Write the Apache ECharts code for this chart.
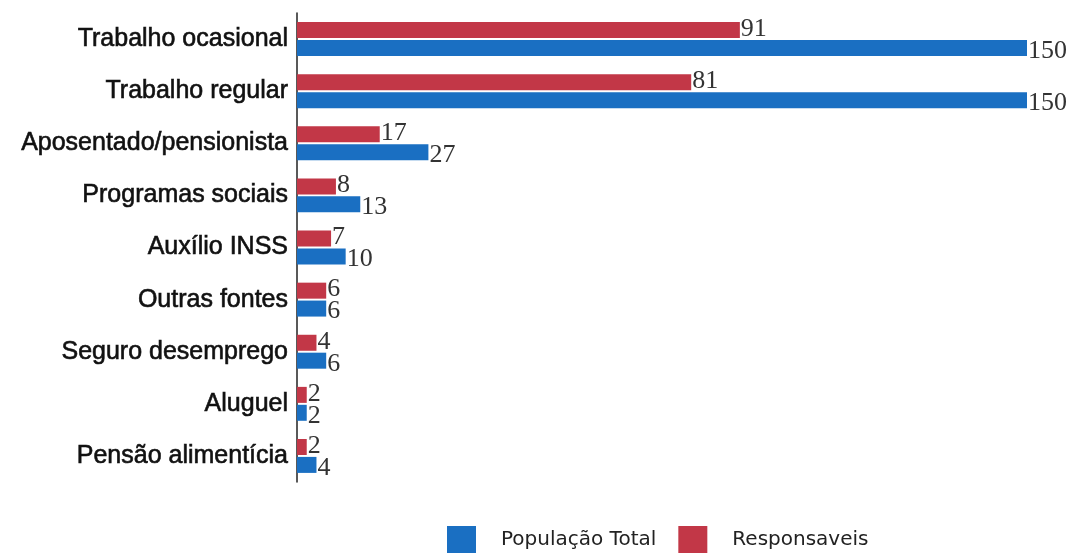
<!DOCTYPE html>
<html>
<head>
<meta charset="utf-8">
<script src="https://cdn.jsdelivr.net/npm/echarts@6/dist/echarts.min.js"></script>
<style>
  html, body { margin: 0; padding: 0; background: #fff; }
  #chart { width: 1068px; height: 553px; }
</style>
</head>
<body>
<div id="chart"></div>
<script>
const categories = [
    'Trabalho ocasional',
    'Trabalho regular',
    'Aposentado/pensionista',
    'Programas sociais',
    'Auxílio INSS',
    'Outras fontes',
    'Seguro desemprego',
    'Aluguel',
    'Pensão alimentícia'
]
const responsaveis = [91, 81, 17, 8, 7, 6, 4, 2, 2]
const populacaoTotal = [150, 150, 27, 13, 10, 6, 6, 2, 4]

const RED = '#c23747'
const BLUE = '#1a6fc2'

const chart = echarts.init(document.getElementById('chart'))

const valueLabel = {
    show: true,
    position: 'right',
    distance: 1,
    fontFamily: 'Liberation Serif',
    fontSize: 26,
    color: '#333',
}

chart.setOption({
    animation: false,
    grid: {
        left: 297,
        right: 41,
        top: 13,
        bottom: 71,
    },
    legend: {
        data: ['População Total', 'Responsaveis'],
        left: 447,
        top: 526,
        padding: 0,
        itemWidth: 29,
        itemHeight: 28,
        itemGap: 22,
        icon: 'rect',
        textStyle: {
            fontFamily: 'DejaVu Sans',
            fontSize: 20,
            color: '#222',
            padding: [0, 0, 0, 20],
        },
    },
    xAxis: {
        type: 'value',
        min: 0,
        max: 150,
        show: false,
    },
    yAxis: {
        type: 'category',
        inverse: true,
        data: categories,
        axisLine: {
            lineStyle: { color: '#222', width: 1.5 },
        },
        axisTick: {
            length: 5,
            lineStyle: { color: '#222', width: 1.5 },
        },
        axisLabel: {
            margin: 9,
            fontFamily: 'Liberation Sans',
            fontSize: 25,
            color: '#111',
            textBorderColor: '#111',
            textBorderWidth: 0.6,
        },
    },
    series: [
        {
            name: 'Responsaveis',
            type: 'bar',
            barWidth: 16,
            barGap: '12%',
            itemStyle: { color: RED },
            label: Object.assign({}, valueLabel, { offset: [0, -1] }),
            data: responsaveis,
        },
        {
            name: 'População Total',
            type: 'bar',
            barWidth: 16,
            barGap: '12%',
            itemStyle: { color: BLUE },
            label: Object.assign({}, valueLabel, { offset: [0, 3] }),
            data: populacaoTotal,
        },
    ],
})
</script>
</body>
</html>
